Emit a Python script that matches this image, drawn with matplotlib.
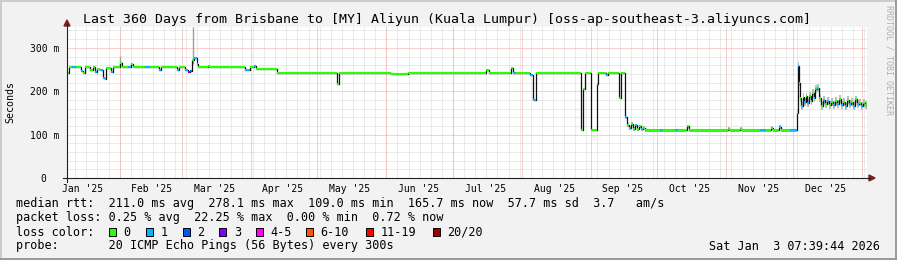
import datetime as dt
import numpy as np
import matplotlib
matplotlib.use('Agg')
import matplotlib.pyplot as plt
import matplotlib.dates as mdates
from matplotlib.patches import Rectangle, Polygon
from matplotlib.lines import Line2D

plt.rcParams['font.family'] = ['DejaVu Sans Mono', 'DejaVu Sans']

#### Data ####
start = dt.datetime(2025, 1, 8, 7, 39, 44)
end = dt.datetime(2026, 1, 3, 7, 39, 44)

# day offset (from start) where each median value begins; it holds until the next one
day = [0, 0.9, 2.2, 4.0, 6.3, 7.2, 8.1, 10.3, 11.7, 12.6,
       13.5, 14.8, 16.2, 17.1, 17.5, 19.8, 20.7, 23.8, 24.7, 27.4,
       28.8, 29.7, 35.1, 37.3, 41.4, 42.3, 49.5, 50.4, 53.1, 54.4,
       55.3, 56.2, 57.1, 58.5, 58.9, 63.4, 64.3, 80.1, 82.3, 84.1,
       85.0, 94.5, 121.5, 122.4, 145.8, 153.4, 188.5, 189.9, 199.8, 200.7,
       202.0, 208.3, 209.7, 211.0, 231.3, 232.2, 233.1, 235.8, 238.5, 238.9,
       242.5, 243.4, 248.4, 249.3, 251.1, 252.0, 252.9, 253.8, 254.7, 255.6,
       256.5, 257.4, 258.3, 259.2, 260.1, 266.8, 267.7, 273.6, 274.9, 279.0,
       279.9, 297.4, 298.3, 302.8, 303.7, 311.8, 314.5, 316.8, 317.7, 320.4,
       321.3, 325.3, 328.5, 328.9, 329.4, 329.8, 330.3, 331.2, 331.6, 332.5,
       333.0, 333.9, 334.8, 335.2, 336.1, 336.6, 337.5, 338.4, 339.3, 340.2,
       341.1, 342.0, 342.9, 343.8, 344.7, 345.6, 346.5, 347.4, 348.3, 349.2,
       350.1, 351.0, 351.9, 352.8, 353.7, 354.6, 355.5, 356.4, 357.3, 358.2,
       359.1]

# median rtt in ms
rtt = [243, 255, 255, 255, 247, 241, 255, 249, 255, 245,
       252, 250, 231, 229, 254, 245, 255, 266, 255, 255,
       262, 255, 255, 255, 248, 255, 250, 255, 248, 244,
       246, 271, 277, 262, 255, 258, 255, 248, 255, 259,
       252, 243, 217, 243, 240, 243, 248, 243, 253, 243,
       243, 238, 180, 243, 111, 206, 243, 110, 217, 243,
       237, 243, 184, 243, 140, 122, 115, 124, 113, 121,
       112, 119, 112, 116, 110, 110, 110, 110, 110, 119,
       110, 113, 110, 113, 110, 110, 110, 115, 110, 118,
       110, 110, 150, 258, 220, 184, 166, 186, 176, 188,
       173, 190, 178, 195, 185, 205, 208, 185, 166, 180,
       170, 178, 168, 175, 168, 178, 170, 182, 168, 176,
       165, 180, 170, 176, 166, 181, 170, 174, 166, 172,
       168]

# loss class (index into loss_labels)
loss = [0, 0, 1, 0, 1, 0, 0, 0, 0, 1,
        0, 1, 1, 1, 0, 1, 0, 0, 0, 1,
        0, 0, 1, 0, 1, 0, 1, 0, 1, 3,
        2, 0, 1, 1, 0, 0, 0, 1, 0, 1,
        0, 0, 0, 0, 0, 0, 0, 0, 0, 1,
        0, 1, 1, 0, 0, 0, 0, 0, 1, 0,
        1, 0, 0, 0, 1, 0, 1, 0, 0, 1,
        0, 0, 1, 0, 0, 1, 0, 1, 0, 0,
        0, 0, 0, 0, 0, 1, 0, 0, 0, 1,
        0, 1, 0, 1, 0, 0, 1, 0, 1, 0,
        1, 0, 1, 0, 1, 1, 0, 0, 0, 1,
        0, 1, 0, 0, 1, 0, 1, 0, 1, 0,
        1, 0, 1, 0, 1, 0, 1, 0, 1, 0,
        0]

loss_labels = ['0', '1', '2', '3', '4-5', '6-10', '11-19', '20/20']
loss_colors = ['#26ff00', '#00b8ff', '#0059ff', '#7e00ff', '#ff00ff', '#ff5500', '#ff0000', '#a10000']

# smoke (spread of the pings around the median)
smoke_from = [0, 251.1, 328.5]
smoke_ms = [1.5, 4.0, 9.0]
spike_day = [23.8, 56.7]
spike_top = [281, 348]

y_ticks = [0, 100, 200, 300]
y_labels = ['0  ', '100 m', '200 m', '300 m']

title = 'Last 360 Days from Brisbane to [MY] Aliyun (Kuala Lumpur) [oss-ap-southeast-3.aliyuncs.com]'
legend_rows = [
    'median rtt:  211.0 ms avg  278.1 ms max  109.0 ms min  165.7 ms now  57.7 ms sd  3.7   am/s',
    'packet loss: 0.25 % avg  22.25 % max  0.00 % min  0.72 % now',
    'loss color:',
    'probe:       20 ICMP Echo Pings (56 Bytes) every 300s',
]
stamp = 'Sat Jan  3 07:39:44 2026'

#### Layout helpers (pixels -> figure fraction) ####
W, H = 897, 260
def fx(x):
    return x / W
def fy(y):
    return 1 - y / H

fig = plt.figure(figsize=(W / 100, H / 100), dpi=100)
fig.patch.set_facecolor('#f2f2f2')

# plot box: x 67..867, y 27..178
ax = fig.add_axes([fx(67), fy(178), 800 / W, 151 / H])
ax.set_facecolor('white')
for s in ax.spines.values():
    s.set_visible(False)

x0 = mdates.date2num(start)
x1 = mdates.date2num(end)
ax.set_xlim(x0, x1)
ax.set_ylim(0, 348)

# grid (dotted)
dotted = (0, (1, 1))
minor_c = '#d6d6d6'
major_c = '#f2a0a0'
for v in range(20, 348, 20):
    if v % 100:
        ax.axhline(v, color=minor_c, lw=0.72, ls=dotted, zorder=0)
for v in (100, 200, 300):
    ax.axhline(v, color=major_c, lw=0.72, ls=dotted, zorder=0)
g = mdates.date2num(dt.datetime(2025, 1, 12))
while g < x1:
    ax.axvline(g, color=minor_c, lw=0.72, ls=dotted, zorder=0)
    g += 5
month_starts = [dt.datetime(2025, m, 1) for m in range(2, 13)] + [dt.datetime(2026, 1, 1)]
for m in month_starts:
    ax.axvline(mdates.date2num(m), color=major_c, lw=0.72, ls=dotted, zorder=0)

# series
t = mdates.date2num([start + dt.timedelta(days=d) for d in day] + [end])
r = np.array(rtt + [rtt[-1]], dtype=float)
idx = np.searchsorted(smoke_from, np.array(day + [360.0]), side='right') - 1
sw = np.array(smoke_ms)[idx]
ax.fill_between(t, r - sw, r + sw, step='post', color='#bdbdbd', lw=0, zorder=1)
ax.vlines([x0 + d for d in spike_day], [255, 262], spike_top, color='#a0a0a0', lw=1, zorder=1)
ax.step(t, r, where='post', color='#111111', lw=0.9, zorder=2)
ax.hlines(rtt, t[:-1], t[1:], colors=[loss_colors[i] for i in loss], lw=1.5, zorder=3)

# ticks
ax.set_yticks(y_ticks)
ax.set_yticklabels(y_labels)
mids = [mdates.date2num(dt.datetime(2025, m, 15, 12)) for m in range(1, 13)]
ax.set_xticks(mids)
ax.set_xticklabels([dt.date(2025, m, 1).strftime("%b '25") for m in range(1, 13)])
ax.tick_params(length=0, labelsize=7, pad=4)
ax.tick_params(axis='y', pad=5.8)

# axes with arrows
axc = '#202020'
arc = '#7f1f1f'
fig.add_artist(Line2D([fx(63), fx(870)], [fy(178), fy(178)], color=axc, lw=0.8))
fig.add_artist(Line2D([fx(67), fx(67)], [fy(182), fy(24)], color=axc, lw=0.8))
fig.add_artist(Polygon([[fx(869), fy(175)], [fx(869), fy(181)], [fx(875), fy(178)]], closed=True, color=arc))
fig.add_artist(Polygon([[fx(64), fy(26)], [fx(70), fy(26)], [fx(67), fy(20)]], closed=True, color=arc))

# texts
fig.text(fx(447), fy(19), title, ha='center', va='center', fontsize=9.5, color='#000000')
fig.text(fx(10), fy(102), 'Seconds', rotation=90, ha='center', va='center', fontsize=7.2)
fig.text(fx(889), fy(60), 'RRDTOOL / TOBI OETIKER', rotation=270, ha='center', va='center',
         fontsize=6, color='#b0b0b0')
row_y = [204, 218, 232, 246]
for txt, yy in zip(legend_rows, row_y):
    fig.text(fx(16), fy(yy), txt, ha='left', va='center', fontsize=8.5)
fig.text(fx(880), fy(246), stamp, ha='right', va='center', fontsize=8.5)

box_x = [108.7, 145.7, 182.7, 219.3, 256.3, 306, 366, 432.5]
for bx, lab, col in zip(box_x, loss_labels, loss_colors):
    fig.add_artist(Rectangle((fx(bx), fy(236)), 7 / W, 8 / H, facecolor=col, edgecolor='black', lw=0.7))
    fig.text(fx(bx + 14.5), fy(232), lab, ha='left', va='center', fontsize=8.5)

# frame shading
fig.add_artist(Line2D([0, 1], [fy(0.5), fy(0.5)], color='#cbcbcb', lw=1.4))
fig.add_artist(Line2D([fx(0.5), fx(0.5)], [0, 1], color='#cbcbcb', lw=1.4))
fig.add_artist(Line2D([0, 1], [fy(259), fy(259)], color='#999999', lw=1.4))
fig.add_artist(Line2D([fx(896), fx(896)], [0, 1], color='#999999', lw=1.4))

fig.savefig('out.png', dpi=100, facecolor=fig.get_facecolor())
